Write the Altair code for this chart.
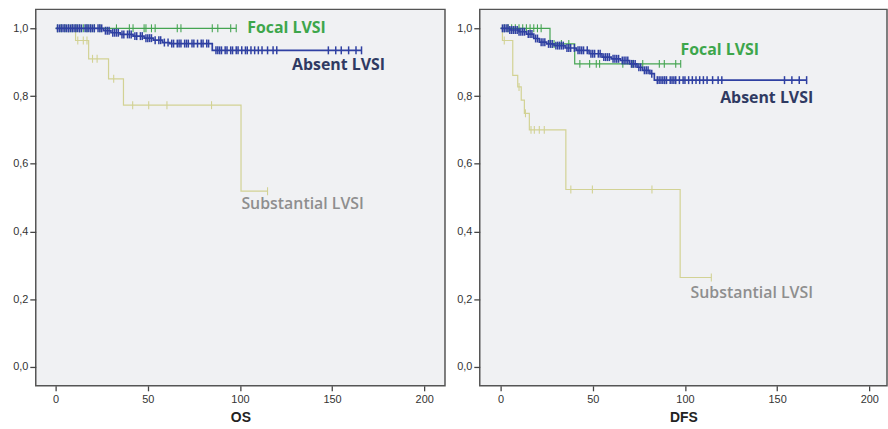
import altair as alt
import pandas as pd

GROUPS = ["Absent LVSI", "Focal LVSI", "Substantial LVSI"]
LINE_COLORS = ["#2F40A2", "#45A552", "#D2D294"]
LABEL_COLORS = ["#2F3A62", "#3DA64B", "#8E8E8E"]

# ---------------- OS ----------------
os_absent_t = [0, 26, 30, 35, 42, 48, 53, 58, 62, 85, 166]
os_absent_s = [1.0, 0.993, 0.987, 0.982, 0.977, 0.971, 0.965, 0.958, 0.955, 0.935, 0.935]
os_absent_c = [1, 2, 3, 4, 5, 6, 7, 8, 9, 10, 11, 12, 13, 14, 16, 17, 18, 19, 20, 21, 23, 24, 25,
               27, 28, 29, 31, 32, 33, 34, 36, 37, 39, 40, 41, 43, 44, 46, 47, 49, 50, 51, 52,
               54, 56, 57, 59, 61, 63, 64, 66, 67, 68, 70, 71, 72, 74, 75, 77, 79, 80, 82, 83,
               87, 88, 89, 90, 92, 93, 95, 96, 98, 99, 101, 103, 104, 106, 108, 110, 112, 115,
               118, 120, 148, 152, 155, 159, 163, 166]

os_focal_t = [0, 98]
os_focal_s = [1.0, 1.0]
os_focal_c = [1, 3, 5, 7, 9, 11, 13, 15, 17, 19, 21, 24, 33, 40, 42, 48, 49, 52, 54, 66, 68,
              85, 88, 95, 98]

os_subst_t = [0, 10.8, 17.9, 28.7, 36.8, 100.6, 115]
os_subst_s = [1.0, 0.964, 0.91, 0.851, 0.773, 0.519, 0.519]
os_subst_c = [12, 15, 17, 20, 22.5, 31.5, 41.8, 50.5, 60.4, 84.6, 115]

os_label_x = [128.3, 104.0, 100.8]
os_label_y = [0.891, 1.0, 0.481]

# ---------------- DFS ----------------
dfs_absent_t = [0, 5, 10, 14, 18, 21, 25, 29, 35, 41, 48, 55, 60, 65, 70, 74, 77, 81, 83.4, 166]
dfs_absent_s = [1.0, 0.995, 0.99, 0.983, 0.97, 0.959, 0.954, 0.949, 0.942, 0.935, 0.925, 0.915,
                0.91, 0.905, 0.895, 0.885, 0.876, 0.866, 0.847, 0.847]
dfs_absent_c = [1, 2, 3, 4, 5, 6, 7, 8, 9, 10, 11, 12, 13, 15, 16, 17, 19, 20, 22, 23, 24, 26,
                27, 28, 30, 31, 32, 33, 34, 36, 37, 38, 40, 42, 43, 44, 45, 47, 49, 50, 51, 53,
                54, 56, 57, 58, 59, 61, 62, 63, 64, 66, 67, 68, 69, 71, 72, 73, 75, 76, 78, 79,
                80, 82, 85, 86, 87, 88, 89, 90, 92, 93, 94, 95, 97, 99, 100, 102, 104, 106, 108,
                110, 112, 115, 118, 120, 154, 158, 162, 166]

dfs_focal_t = [0, 26.8, 40.2, 97.7]
dfs_focal_s = [1.0, 0.954, 0.895, 0.895]
dfs_focal_c = [2, 4, 6, 8, 10, 12, 14, 16, 18, 20, 22, 29, 33, 37, 43, 48.3, 51.9, 53.7,
               66.3, 71.7, 77.1, 86.1, 88.8, 95, 97.7]

dfs_subst_t = [0, 1, 6.6, 9.3, 11.2, 12.9, 15.6, 35.4, 97.4, 114.3]
dfs_subst_s = [1.0, 0.964, 0.861, 0.827, 0.788, 0.749, 0.70, 0.524, 0.264, 0.264]
dfs_subst_c = [2, 10, 13.5, 16.5, 18.3, 21, 23.7, 38.1, 49.8, 82.1, 114.3]

dfs_label_x = [119.1, 97.6, 103.0]
dfs_label_y = [0.795, 0.935, 0.217]


def surv_at(ts, ss, t):
    v = ss[0]
    for ti, si in zip(ts, ss):
        if ti <= t:
            v = si
    return v


def build_panel(curves, label_x, label_y, title, xdomain, width):
    rows, cens = [], []
    for g, (ts, ss, cs) in zip(GROUPS, curves):
        for t, s in zip(ts, ss):
            rows.append({"group": g, "t": t, "s": s})
        for c in cs:
            cens.append({"group": g, "t": c, "s": surv_at(ts, ss, c)})
    lines_df = pd.DataFrame(rows)
    cens_df = pd.DataFrame(cens)

    x = alt.X("t:Q", scale=alt.Scale(domain=xdomain, nice=False, zero=False),
              axis=alt.Axis(values=[0, 50, 100, 150, 200], title=title, format="d"))
    y = alt.Y("s:Q", scale=alt.Scale(domain=[-0.056, 1.056], nice=False, zero=False),
              axis=alt.Axis(values=[0, 0.2, 0.4, 0.6, 0.8, 1.0], title=None,
                            labelExpr="replace(format(datum.value, '.1f'), '.', ',')",
                            minExtent=25, maxExtent=25))
    color = alt.Color("group:N", scale=alt.Scale(domain=GROUPS, range=LINE_COLORS), legend=None)

    layers = []
    order = [2, 1, 0]
    for i in order:
        g = GROUPS[i]
        sw = 1.7 if i == 0 else 1.2
        layers.append(
            alt.Chart(lines_df[lines_df.group == g]).mark_line(
                interpolate="step-after", strokeWidth=sw
            ).encode(x=x, y=y, color=color)
        )
        layers.append(
            alt.Chart(cens_df[cens_df.group == g]).mark_point(
                shape="M0,-1L0,1", size=64, strokeWidth=1.5 if i == 0 else 1.1,
                filled=False, opacity=1
            ).encode(x=x, y=y, color=color)
        )
    for i, g in enumerate(GROUPS):
        ldf = pd.DataFrame({"t": [label_x[i]], "s": [label_y[i]], "text": [g]})
        layers.append(
            alt.Chart(ldf).mark_text(
                align="left", baseline="middle", fontSize=16,
                fontWeight="bold" if i < 2 else 600, font="Open Sans",
                color=LABEL_COLORS[i]
            ).encode(x=x, y=y, text="text:N")
        )
    return alt.layer(*layers).properties(width=width, height=379)


left = build_panel(
    [(os_absent_t, os_absent_s, os_absent_c),
     (os_focal_t, os_focal_s, os_focal_c),
     (os_subst_t, os_subst_s, os_subst_c)],
    os_label_x, os_label_y, "OS", [-10.8, 211.3], 412)

right = build_panel(
    [(dfs_absent_t, dfs_absent_s, dfs_absent_c),
     (dfs_focal_t, dfs_focal_s, dfs_focal_c),
     (dfs_subst_t, dfs_subst_s, dfs_subst_c)],
    dfs_label_x, dfs_label_y, "DFS", [-11.3, 209.6], 410)

chart = alt.hconcat(left, right, spacing=8).properties(
    padding={"left": 10, "top": 7, "right": 0, "bottom": 0},
    background="white",
).configure_view(
    fill="#F0F1F3", stroke="#555555", strokeWidth=1.5
).configure_axis(
    grid=False, domain=False, tickColor="#444444", tickSize=6, tickWidth=1.3,
    labelFont="Liberation Sans", labelFontSize=11, labelColor="#333333", labelPadding=2,
    titleFont="Liberation Sans", titleFontSize=14, titleFontWeight="bold", titleColor="#222222",
).configure_axisX(
    tickSize=5, labelPadding=3, titlePadding=6
)

chart.save("out.html", embed_options={"renderer": "svg", "actions": False})
